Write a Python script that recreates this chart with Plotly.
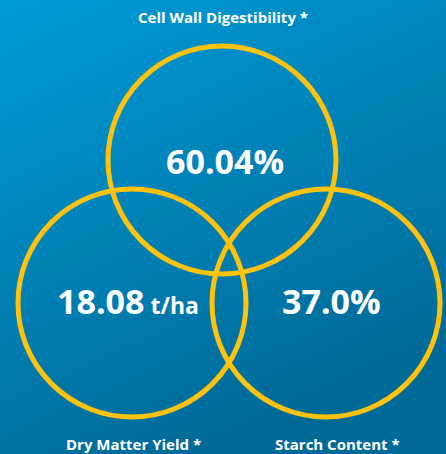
import plotly.graph_objects as go
import urllib.parse

# ---- data ----
categories = ["Cell Wall Digestibility *", "Dry Matter Yield *", "Starch Content *"]
values = ["60.04", "18.08", "37.0"]
units = ["%", " t/ha", "%"]

# ---- layout / style (pixels in a 446x454 canvas) ----
W, H = 446, 454
circle_centers = [(222, 160), (132, 303), (326, 303)]
radius = 114
label_pos = [(223, 17), (133, 444), (337, 444)]
value_pos = [(225, 161), (128, 301), (331, 301)]
yellow = "#FFC20E"

fig = go.Figure()

# gradient background as an inline SVG image
svg = (
    f'<svg xmlns="http://www.w3.org/2000/svg" width="{W}" height="{H}">'
    '<defs><linearGradient id="g" x1="0" y1="0" x2="0.45" y2="1">'
    '<stop offset="0" stop-color="#009BD8"/>'
    '<stop offset="1" stop-color="#006A97"/>'
    '</linearGradient></defs>'
    f'<rect width="{W}" height="{H}" fill="url(#g)"/></svg>'
)
src = "data:image/svg+xml;charset=utf-8," + urllib.parse.quote(svg)
fig.add_layout_image(dict(source=src, xref="x", yref="y", x=0, y=0,
                          sizex=W, sizey=H, sizing="stretch", layer="below",
                          xanchor="left", yanchor="top"))

# circles
for (cx, cy) in circle_centers:
    fig.add_shape(type="circle", xref="x", yref="y",
                  x0=cx - radius, x1=cx + radius, y0=cy - radius, y1=cy + radius,
                  line=dict(color=yellow, width=5), fillcolor="rgba(0,0,0,0)")

# category labels
for name, (x, y) in zip(categories, label_pos):
    fig.add_annotation(x=x, y=y, text=f"<b>{name}</b>", showarrow=False,
                       font=dict(family="Open Sans", size=15, color="white"),
                       xanchor="center", yanchor="middle")

# values
for v, u, (x, y) in zip(values, units, value_pos):
    if u.strip() == "t/ha":
        txt = f"<b>{v}</b><b><span style='font-size:23px'>{u}</span></b>"
    else:
        txt = f"<b>{v}{u}</b>"
    fig.add_annotation(x=x, y=y, text=txt, showarrow=False,
                       font=dict(family="Open Sans", size=34, color="white"),
                       xanchor="center", yanchor="middle")

fig.update_xaxes(range=[0, W], visible=False, fixedrange=True)
fig.update_yaxes(range=[H, 0], visible=False, fixedrange=True)
fig.update_layout(width=W, height=H, margin=dict(l=0, r=0, t=0, b=0),
                  paper_bgcolor="#0082B8", plot_bgcolor="rgba(0,0,0,0)",
                  showlegend=False)

fig.write_html("out.html", config={"displayModeBar": False},
               post_script="document.body.style.margin='0';document.body.style.overflow='hidden';")
